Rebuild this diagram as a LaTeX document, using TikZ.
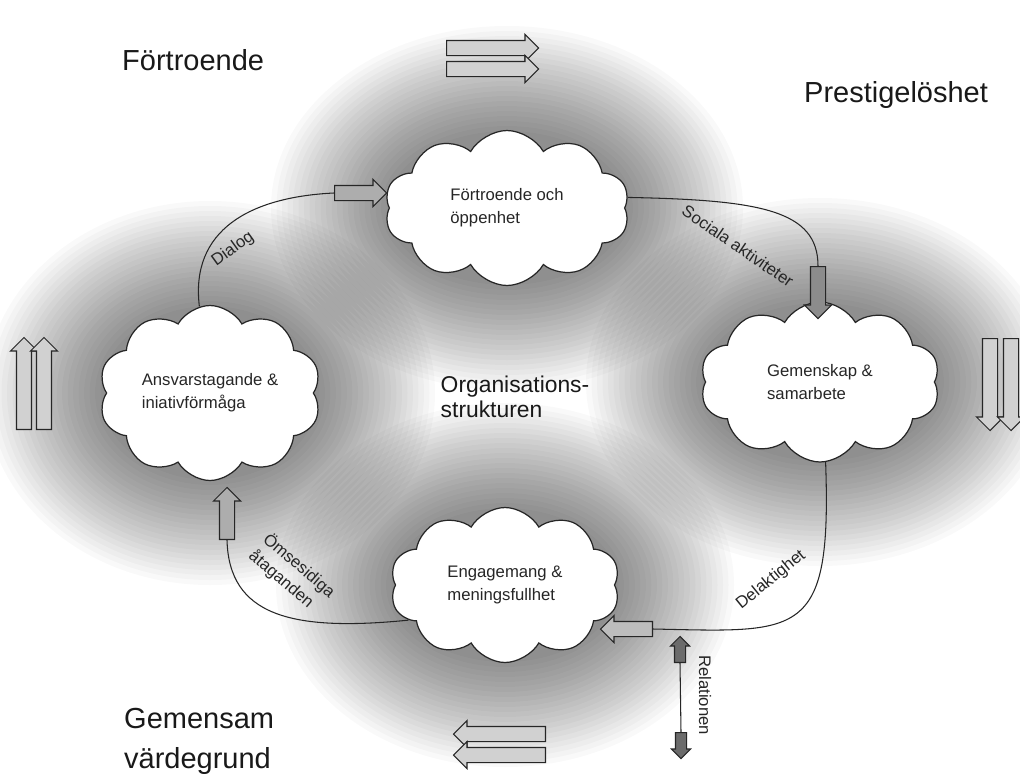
\documentclass[tikz,border=0pt]{standalone}
\usepackage{fontspec}
\setmainfont{Liberation Sans}
\usepackage{tikz}
\usetikzlibrary{calc}
\usetikzlibrary{shapes.symbols}
\usetikzlibrary{shapes.arrows}

\begin{document}
\begin{tikzpicture}[x=0.02cm,y=-0.02cm]
    \tikzstyle{thought cloud}=[cloud,cloud puffs=10,cloud puff arc=120,cloud ignores aspect,draw=black!85,line width=0.7pt,fill=white,align=left,text=black!85,font=\fontsize{9.5}{13}\selectfont]
    \tikzstyle{glow}=[black,opacity=0.024]
    \tikzstyle{arrow body}=[single arrow,draw=black!85,line width=0.6pt,inner xsep=0pt,text height=0pt,text depth=0pt,minimum width=0pt,anchor=tail]
    \tikzstyle{big arrow}=[arrow body,fill=black!18,inner ysep=0.14cm,single arrow head extend=0.12cm,minimum height=1.84cm]
    \tikzstyle{link arrow}=[arrow body,fill=black!32,inner ysep=0.14cm,single arrow head extend=0.12cm,minimum height=1.04cm]
    \tikzstyle{small arrow}=[arrow body,fill=black!58,inner ysep=0.1cm,single arrow head extend=0.08cm,minimum height=0.52cm]
    \tikzstyle{connector}=[line width=0.6pt,color=black!85]
    \tikzstyle{link label}=[text=black!85,font=\fontsize{9.5}{12.5}\selectfont]
    \tikzstyle{corner text}=[anchor=west,text=black!90,font=\fontsize{16.5}{22.7}\selectfont]
    \tikzstyle{center text}=[align=left,text=black!90,font=\fontsize{13}{14.2}\selectfont]

    % Page
    \fill[white] (0,0) rectangle (1020,778);
    \useasboundingbox (0,0) rectangle (1020,778);

    % Soft shade behind the clouds
    \foreach \cx/\cy/\rx/\ry in {507/208/115/72, 820/382/113/74, 505/585/108/72, 210/393/104/82}
        \foreach \k in {1,...,22}
            \fill[style=glow] (\cx,\cy) ellipse ({\rx+5.5*\k} and {\ry+5*\k});

    % Clouds
    \node[thought cloud,minimum width=4.9cm,minimum height=3.1cm] (trust) at (507,208) {Förtroende och\\öppenhet};
    \node[thought cloud,minimum width=4.8cm,minimum height=3.2cm] (community) at (820,382) {Gemenskap \&\\samarbete};
    \node[thought cloud,minimum width=4.6cm,minimum height=3.1cm] (engagement) at (505,585) {Engagemang \&\\meningsfullhet};
    \node[thought cloud,minimum width=4.45cm,minimum height=3.5cm] (responsibility) at (210,393) {Ansvarstagande \&\\iniativförmåga};

    % Texts
    \node[corner text] (cornerNW) at (116,60) {Förtroende};
    \node[corner text] (cornerNE) at (798,95) {Prestigelöshet};
    \node[corner text,align=left] (cornerSW) at (118,741) {Gemensam\\värdegrund};
    \node[center text] (structure) at (515,397) {Organisations-\\strukturen};

    % Big arrows
    \node[big arrow] (topA) at (446,48) {};
    \node[big arrow] (topB) at (446,69) {};
    \node[big arrow,rotate=90] (leftA) at (24,430) {};
    \node[big arrow,rotate=90] (leftB) at (44,430) {};
    \node[big arrow,rotate=-90] (rightA) at (990,338) {};
    \node[big arrow,rotate=-90] (rightB) at (1011,338) {};
    \node[big arrow,rotate=180] (bottomA) at (546,734) {};
    \node[big arrow,rotate=180] (bottomB) at (546,755) {};

    % Link arrows
    \node[link arrow] (dialogarrow) at (334,193) {};
    \node[link arrow,rotate=-90,fill=black!45] (socialarrow) at (818,266) {};
    \node[link arrow,rotate=180,fill=black!26] (sharearrow) at (653,629) {};
    \node[link arrow,rotate=90] (mutualarrow) at (227,540) {};

    % Links
    \draw[style=connector] (responsibility.97) .. controls (190,230) and (250,197) .. (dialogarrow.tail);
    \draw[style=connector] (trust.5) .. controls (760,200) and (818,210) .. (socialarrow.tail);
    \draw[style=connector] (community.-86) .. controls (832,640) and (800,632) .. (sharearrow.tail);
    \draw[style=connector] (engagement.200) .. controls (290,632) and (229,615) .. (mutualarrow.tail);

    % Relationen
    \node[small arrow,rotate=90] (relUp) at (680,663) {};
    \node[small arrow,rotate=-90] (relDown) at (681,732) {};
    \draw[style=connector] (relUp.tail) -- (relDown.tail);

    % Labels
    \node[link label,rotate=36] (dialogLabel) at (233,249) {Dialog};
    \node[link label,rotate=-34.5] (socialLabel) at (738,246) {Sociala aktiviteter};
    \node[link label,rotate=39] (shareLabel) at (771,580) {Delaktighet};
    \node[link label,rotate=-40.5,align=left] (mutualLabel) at (292,574) {Ömsesidiga\\åtaganden};
    \node[link label,rotate=-90] (relationLabel) at (705,695) {Relationen};

\end{tikzpicture}
\end{document}
